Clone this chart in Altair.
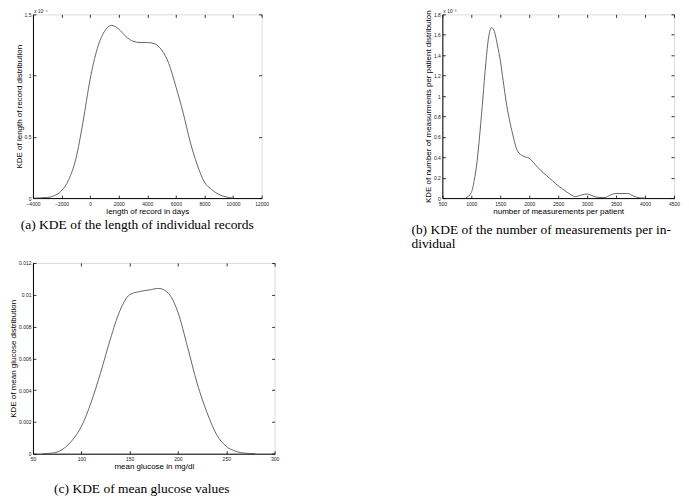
import altair as alt
import pandas as pd

# ---------------- data ----------------
# (a) KDE of length of record (y in units of 1e-4)
a_x = [-4000, -3500, -3000, -2500, -2000, -1500, -1000, -500, 0, 500, 1000, 1500,
       2000, 2500, 3000, 3500, 4000, 4500, 5000, 5500, 6000, 6500, 7000, 7500,
       8000, 8500, 9000, 9500, 10000]
a_y = [0.0, 0.002, 0.005, 0.02, 0.06, 0.15, 0.32, 0.62, 0.97, 1.22, 1.36, 1.41,
       1.38, 1.32, 1.28, 1.27, 1.27, 1.26, 1.21, 1.10, 0.91, 0.70, 0.46, 0.27,
       0.13, 0.07, 0.03, 0.01, 0.0]

# (b) KDE of number of measurements per patient (y in units of 1e-3)
b_x = [900, 1000, 1050, 1100, 1150, 1200, 1250, 1300, 1350, 1400, 1450, 1500, 1550,
       1600, 1700, 1800, 1900, 2000, 2100, 2200, 2300, 2400, 2500, 2600, 2700,
       2800, 2900, 3000, 3100, 3200, 3300, 3400, 3500, 3600, 3700, 3800, 3900, 4000]
b_y = [0.0, 0.055, 0.17, 0.36, 0.65, 0.98, 1.32, 1.58, 1.67, 1.63, 1.50, 1.35, 1.15,
       0.95, 0.66, 0.46, 0.41, 0.39, 0.33, 0.27, 0.22, 0.17, 0.12, 0.08, 0.04,
       0.015, 0.03, 0.04, 0.02, 0.006, 0.005, 0.03, 0.045, 0.045, 0.045, 0.02, 0.003, 0.0]

# (c) KDE of mean glucose
c_x = [60, 70, 80, 90, 100, 110, 120, 130, 140, 150, 160, 170, 180, 190, 200,
       210, 220, 230, 240, 250, 260, 270, 280]
c_y = [0.0, 0.00004, 0.00025, 0.0008, 0.0017, 0.0032, 0.0051, 0.0072, 0.0090,
       0.0100, 0.0102, 0.0103, 0.0104, 0.0101, 0.0089, 0.0067, 0.0044, 0.0026,
       0.0012, 0.00046, 0.00015, 0.00003, 0.0]

a_xticks = [-4000, -2000, 0, 2000, 4000, 6000, 8000, 10000, 12000]
a_yticks = [0, 0.5, 1, 1.5]
b_xticks = [500, 1000, 1500, 2000, 2500, 3000, 3500, 4000, 4500]
b_yticks = [0, 0.2, 0.4, 0.6, 0.8, 1, 1.2, 1.4, 1.6, 1.8]
c_xticks = [50, 100, 150, 200, 250, 300]
c_yticks = [0, 0.002, 0.004, 0.006, 0.008, 0.01, 0.012]

SANS = "Liberation Sans"
SERIF = "Liberation Serif"


def panel(x, y, xdom, xticks, ydom, yticks, xtitle, ytitle, w, h, exp,
          caption, cap_anchor, cap_dx, cap_offset):
    df = pd.DataFrame({"x": x, "y": y})
    common = dict(ticks=False, grid=True, gridColor="#000", gridOpacity=1,
                  gridWidth=0.8, labelFontSize=5, labelFont=SANS, titleFont=SANS,
                  titleFontSize=8, titleFontWeight="normal", labelColor="#222",
                  titleColor="#000", domainColor="#000", domainWidth=1,
                  labelFlush=False, labelOverlap=False)
    xaxis = alt.Axis(values=xticks, format="d", title=xtitle,
                     gridDash=[3, h - 6, 3, 1000], labelPadding=3, titlePadding=1,
                     **common)
    yaxis = alt.Axis(values=yticks, format="~g", title=ytitle,
                     gridDash=[3, w - 6, 3, 1000], labelPadding=2, titlePadding=1,
                     **common)
    line = alt.Chart(df).mark_line(color="#555", strokeWidth=0.9,
                                   interpolate="monotone").encode(
        x=alt.X("x:Q", scale=alt.Scale(domain=xdom, nice=False, zero=False), axis=xaxis),
        y=alt.Y("y:Q", scale=alt.Scale(domain=ydom, nice=False, zero=False), axis=yaxis),
    )
    layers = [line]
    if exp:
        expo = alt.Chart(pd.DataFrame({"t": [exp]})).mark_text(
            fontSize=5, align="left", baseline="bottom", font=SANS, color="#222"
        ).encode(text="t:N", x=alt.value(1), y=alt.value(-0.5))
        layers.append(expo)
    return alt.layer(*layers).properties(
        width=w, height=h,
        title=alt.TitleParams(caption, orient="bottom", anchor=cap_anchor, dx=cap_dx,
                              offset=cap_offset, font=SERIF, fontSize=13.5,
                              fontWeight="normal", color="#000", frame="group",
                              lineHeight=14),
    )


pa = panel(a_x, a_y, [-4000, 12000], a_xticks, [0, 1.5], a_yticks,
           "length of record in days", "KDE of length of record distribution",
           229, 184, "x 10⁻⁴", "(a) KDE of the length of individual records",
           "middle", -10, 3)
pb = panel(b_x, b_y, [500, 4500], b_xticks, [0, 1.8], b_yticks,
           "number of measurements per patient",
           "KDE of number of measurments per patient distributon",
           232, 184, "x 10⁻³",
           ["(b) KDE of the number of measurements per in-", "dividual"],
           "start", -31, 8)
pc = panel(c_x, c_y, [50, 300], c_xticks, [0, 0.012], c_yticks,
           "mean glucose in mg/dl", "KDE of mean glucose distribution",
           242, 191, "", "(c) KDE of mean glucose values", "middle", -12, 11)

chart = alt.concat(pa, pb, pc, columns=2, spacing=alt.RowColnumber(row=65, column=168),
                   bounds="flush").properties(padding=0).configure_view(
    stroke="#000", strokeWidth=1).configure(background="white")

chart.save("out.html", embed_options={"renderer": "svg", "actions": False})
